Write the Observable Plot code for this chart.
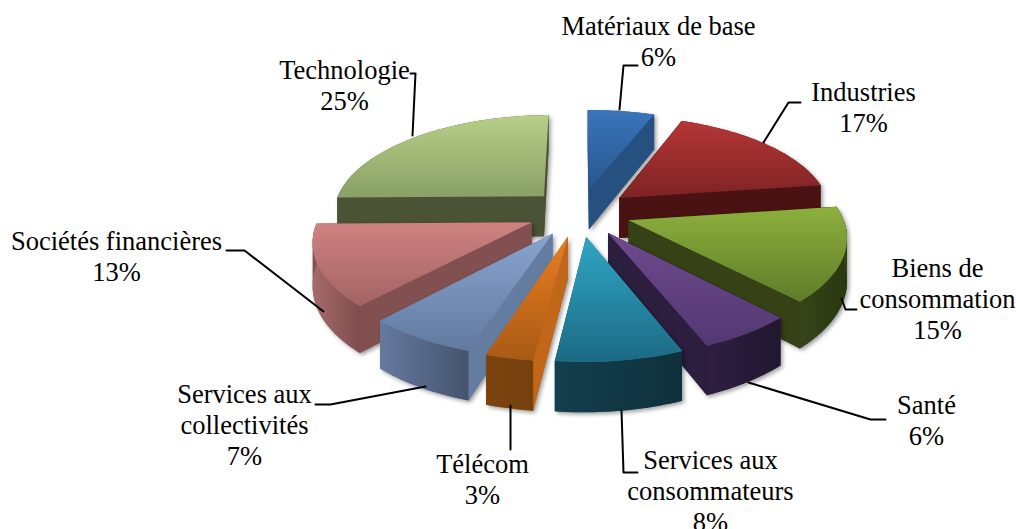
<!DOCTYPE html>
<html><head><meta charset="utf-8">
<style>
html,body{margin:0;padding:0;background:#fff;overflow:hidden}
</style>
<script src="https://cdn.jsdelivr.net/npm/d3@7"></script>
<script src="https://cdn.jsdelivr.net/npm/@observablehq/plot@0.6"></script>
</head><body>
<script>
// Data
const categories = ["Matériaux de base","Industries","Biens de\nconsommation","Santé","Services aux\nconsommateurs","Télécom","Services aux\ncollectivités","Sociétés financières","Technologie"];
const shares = [6,17,15,6,8,3,7,13,25];
// Colours
const topLight = ["#3a74ba","#b63636","#8db03c","#70498f","#2fa6c4","#e97e22","#88a4d0","#d08282","#b8cf88"];
const topDark  = ["#27578f","#7e2323","#5f7c2a","#523871","#1c6a84","#a85a14","#627a9f","#a26363","#89a066"];
const wallColor = ["#25507f","#4a1212","#364216","#2c1e3f","#2a7f9c","#c2661a","#637ca0","#825050","#4a5335"];
const arcLeft  = ["#25507f","#4a1212","#36441a","#2e1f42","#143f4e","#7c430f","#66799f","#a66a6a","#4a5335"];
const arcRight = ["#25507f","#4a1212","#2a3810","#21162f","#0e303b","#74400e","#44546e","#7f4d4d","#4a5335"];
// Layout of the chart frame
const W = 1016, H = 529;
const view = {cx:579, cy:212, R:212, b:98, k:0.15, explode:0.243, depth:41, shear:0.006};
const labelBoxes = [[658,40],[863,106],[937,298],[926,419],[710,490],[482,478],[244,424],[116,255],[344,84]];
const leaders = [
  [[619,109],[623,65],[637,65]],
  [[763,142],[788,102],[800,102]],
  [[841,298],[845,309],[856,309]],
  [[748,382],[870,419],[885,419]],
  [[621,410],[623,472],[637,472]],
  [[510,405],[510,449]],
  [[425,386],[330,404],[315,404]],
  [[323,311],[244,250],[226,250]],
  [[412,135],[415,73],[410,73]]
];

const project = (X, Y, z = 0) => {
  const s = 1 / (1 - view.k * Y);
  const dx = view.R * X * s;
  return [view.cx + dx, view.cy + view.b * Y * s + z * view.depth * s - view.shear * dx];
};
const arcs = d3.pie().sort(null)(shares);
const slices = arcs.map((a, i) => {
  const mid = (a.startAngle + a.endAngle) / 2;
  return {i, a0: a.startAngle, a1: a.endAngle, mid,
          ox: view.explode * Math.sin(mid), oy: -view.explode * Math.cos(mid)};
}).sort((p, q) => Math.cos(q.mid) - Math.cos(p.mid));

const shadow = (index, scales, values, dimensions, context, next) => {
  const g = next(index, scales, values, dimensions, context);
  g.style.filter = "drop-shadow(2px 2px 2px rgba(0,0,0,.4))";
  return g;
};
const marks = [];
const face = (pts, fill, render) => marks.push(Plot.line(pts, {
  x: d => d[0], y: d => d[1], fill, stroke: "none", render
}));
for (const sl of slices) {
  const n = Math.max(4, Math.ceil((sl.a1 - sl.a0) * 40));
  const angles = d3.range(n + 1).map(j => sl.a0 + (sl.a1 - sl.a0) * j / n);
  const rim = (z, list = angles) => list.map(t => project(sl.ox + Math.sin(t), sl.oy - Math.cos(t), z));
  const tip = z => project(sl.ox, sl.oy, z);
  const top = rim(0), bot = rim(1);
  const t0 = tip(0), t1 = tip(1);
  // outline of the whole solid carries the drop shadow
  face(d3.polygonHull([t0, t1, ...top, ...bot]), wallColor[sl.i], shadow);
  face([t0, top[0], bot[0], t1], wallColor[sl.i]);
  face([t0, top[n], bot[n], t1], wallColor[sl.i]);
  const front = angles.filter(t => Math.cos(t) < 0);
  if (front.length > 1) face([...rim(0, front), ...rim(1, front).reverse()], `url(#arc${sl.i})`);
  face([t0, ...top], `url(#top${sl.i})`);
}
const gradients = () => {
  const defs = d3.create("svg:defs");
  const grad = (id, c0, c1, vertical) => {
    const g = defs.append("linearGradient").attr("id", id)
      .attr("x1", 0).attr("y1", 0).attr("x2", vertical ? 0 : 1).attr("y2", vertical ? 1 : 0);
    g.append("stop").attr("offset", 0).attr("stop-color", c0);
    g.append("stop").attr("offset", 1).attr("stop-color", c1);
  };
  categories.forEach((_, i) => {
    grad(`top${i}`, topLight[i], topDark[i], true);
    grad(`arc${i}`, arcLeft[i], arcRight[i], false);
  });
  return defs.node();
};
const leaderRows = leaders.flatMap((path, i) => path.map(p => ({i, x: p[0], y: p[1]})));
const labelRows = categories.map((c, i) => ({text: `${c}\n${shares[i]}%`, x: labelBoxes[i][0], y: labelBoxes[i][1]}));

document.body.append(Plot.plot({
  width: W, height: H, margin: 0,
  x: {domain: [0, W], range: [0, W], axis: null},
  y: {domain: [0, H], range: [0, H], axis: null},
  style: {background: "#fff", fontFamily: "'Liberation Serif', serif"},
  marks: [
    gradients,
    ...marks,
    Plot.line(leaderRows, {x: "x", y: "y", z: "i", stroke: "#000", strokeWidth: 2, curve: "linear"}),
    Plot.text(labelRows, {x: "x", y: "y", text: "text", fontSize: 26.5, lineHeight: 1.17, fill: "#000", textAnchor: "middle"})
  ]
}));
</script>
</body></html>
